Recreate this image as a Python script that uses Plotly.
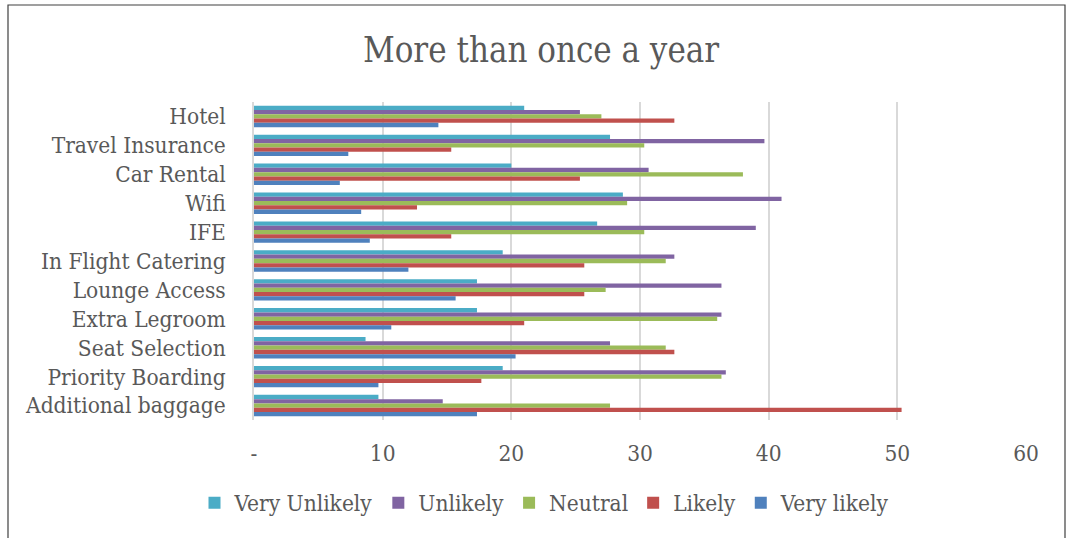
import plotly.graph_objects as go

# Survey: likelihood of purchasing ancillaries (% of respondents)
categories = [
    "Hotel", "Travel Insurance", "Car Rental", "Wifi", "IFE",
    "In Flight Catering", "Lounge Access", "Extra Legroom",
    "Seat Selection", "Priority Boarding", "Additional baggage",
]

very_unlikely = [21.0, 27.67, 20.0, 28.67, 26.67, 19.33, 17.33, 17.33, 8.67, 19.33, 9.67]
unlikely      = [25.33, 39.67, 30.67, 41.0, 39.0, 32.67, 36.33, 36.33, 27.67, 36.67, 14.67]
neutral       = [27.0, 30.33, 38.0, 29.0, 30.33, 32.0, 27.33, 36.0, 32.0, 36.33, 27.67]
likely        = [32.67, 15.33, 25.33, 12.67, 15.33, 25.67, 25.67, 21.0, 32.67, 17.67, 50.33]
very_likely   = [14.33, 7.33, 6.67, 8.33, 9.0, 12.0, 15.67, 10.67, 20.33, 9.67, 17.33]

series_names = ["Very Unlikely", "Unlikely", "Neutral", "Likely", "Very likely"]
series_values = [very_unlikely, unlikely, neutral, likely, very_likely]
colors = ["#4BACC6", "#8064A2", "#9BBB59", "#C0504D", "#4F81BD"]

x_tick_vals = [0, 10, 20, 30, 40, 50, 60]
x_tick_text = ["-", "10", "20", "30", "40", "50", "60"]

FONT = "DejaVu Serif Condensed, DejaVu Serif, serif"
TEXT = "#595959"
FS = 22.5

fig = go.Figure()
for name, vals, col in zip(series_names, series_values, colors):
    fig.add_trace(go.Bar(
        y=categories, x=vals, name=name, orientation="h",
        marker=dict(color=col, line=dict(width=0)),
    ))

W, H = 1073, 538
ml, mr, mt, mb = 254, 47, 102, 118
pw, ph = W - ml - mr, H - mt - mb

def px_x(x):
    return (x - ml) / pw

def px_y(y):
    return (H - mb - y) / ph

fig.update_layout(
    width=W, height=H,
    margin=dict(l=ml, r=mr, t=mt, b=mb),
    paper_bgcolor="white", plot_bgcolor="white",
    barmode="group", bargap=0.26, bargroupgap=0,
    font=dict(family=FONT, color=TEXT, size=FS),
    title=dict(text="More than once a year", x=541 / W, xanchor="center",
               y=1 - 50 / H, yanchor="middle",
               font=dict(family=FONT, size=34.5, color=TEXT)),
    xaxis=dict(range=[0, 60], tickvals=x_tick_vals, ticktext=x_tick_text,
               showgrid=True, gridcolor="#D9D9D9", gridwidth=1.5,
               zeroline=False, showline=False, ticks="",
               ticklabelstandoff=17, tickfont=dict(size=FS)),
    yaxis=dict(autorange="reversed", showgrid=False, zeroline=False,
               showline=True, linecolor="#D9D9D9", linewidth=1.5,
               ticks="", ticklabelstandoff=22, tickfont=dict(size=FS)),
    legend=dict(orientation="h", x=px_x(545), xanchor="center",
                y=px_y(503), yanchor="middle",
                font=dict(size=FS), itemwidth=30,
                traceorder="normal"),
    shapes=[dict(type="rect", xref="paper", yref="paper",
                 x0=px_x(8), x1=px_x(1065), y0=px_y(545), y1=px_y(5),
                 line=dict(color="#404040", width=1.2), layer="below")],
)

fig.write_html("out.html")
